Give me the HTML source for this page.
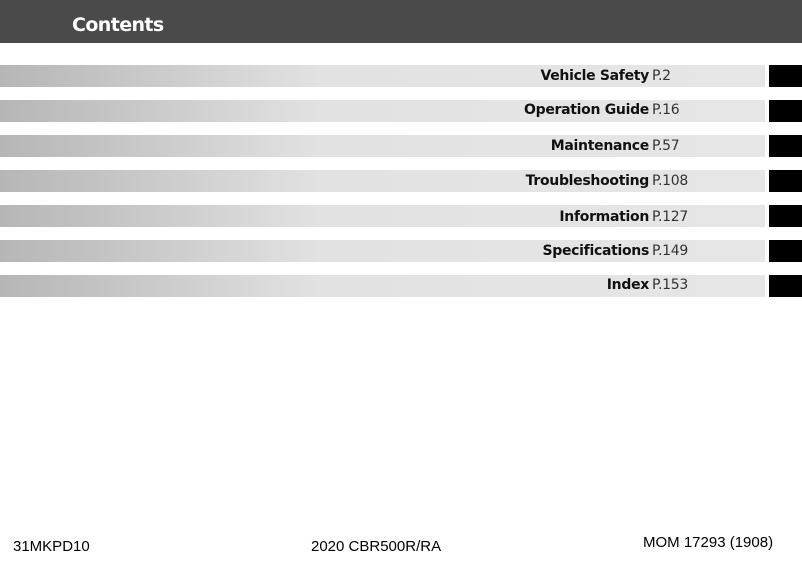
<!DOCTYPE html>
<html><head><meta charset="utf-8"><style>
body{margin:0;width:802px;height:569px;background:#fff;position:relative;overflow:hidden;font-family:"DejaVu Sans","Liberation Sans",sans-serif}
.hd{position:absolute;left:0;top:0;width:802px;height:43px;background:#4a4a4a}
.hd span{position:absolute;left:72px;top:14px;color:#fff;font-weight:bold;font-size:19px;font-family:"DejaVu Sans",sans-serif;letter-spacing:-0.6px}
.bar{position:absolute;left:0;width:765px;height:22px;background:linear-gradient(90deg,#b6b6b6 0,#cacaca 150px,#e2e2e2 320px,#e6e6e6 765px)}
.blk{position:absolute;left:769px;width:33px;height:22px;background:#000}
.lb{position:absolute;right:153px;font-size:14px;font-weight:bold;color:#111;letter-spacing:-0.3px}
.pg{position:absolute;left:652px;font-size:14px;color:#333;letter-spacing:-0.3px}
.ft{position:absolute;font-family:"Liberation Sans",Arial,sans-serif;font-size:15px;color:#000}
</style></head><body>
<div class="hd"><span>Contents</span></div>

<div class="bar" style="top:65px"></div><div class="blk" style="top:65px"></div>
<div class="lb" style="top:68px">Vehicle Safety</div><div class="pg" style="top:68px">P.2</div>

<div class="bar" style="top:100px"></div><div class="blk" style="top:100px"></div>
<div class="lb" style="top:102px">Operation Guide</div><div class="pg" style="top:102px">P.16</div>

<div class="bar" style="top:135px"></div><div class="blk" style="top:135px"></div>
<div class="lb" style="top:138px">Maintenance</div><div class="pg" style="top:138px">P.57</div>

<div class="bar" style="top:170px"></div><div class="blk" style="top:170px"></div>
<div class="lb" style="top:173px">Troubleshooting</div><div class="pg" style="top:173px">P.108</div>

<div class="bar" style="top:205px"></div><div class="blk" style="top:205px"></div>
<div class="lb" style="top:209px">Information</div><div class="pg" style="top:209px">P.127</div>

<div class="bar" style="top:240px"></div><div class="blk" style="top:240px"></div>
<div class="lb" style="top:243px">Specifications</div><div class="pg" style="top:243px">P.149</div>

<div class="bar" style="top:275px"></div><div class="blk" style="top:275px"></div>
<div class="lb" style="top:277px">Index</div><div class="pg" style="top:277px">P.153</div>

<div class="ft" style="left:13px;top:538px">31MKPD10</div>
<div class="ft" style="left:311px;top:538px">2020 CBR500R/RA</div>
<div class="ft" style="left:643px;top:534px">MOM 17293 (1908)</div>
</body></html>
